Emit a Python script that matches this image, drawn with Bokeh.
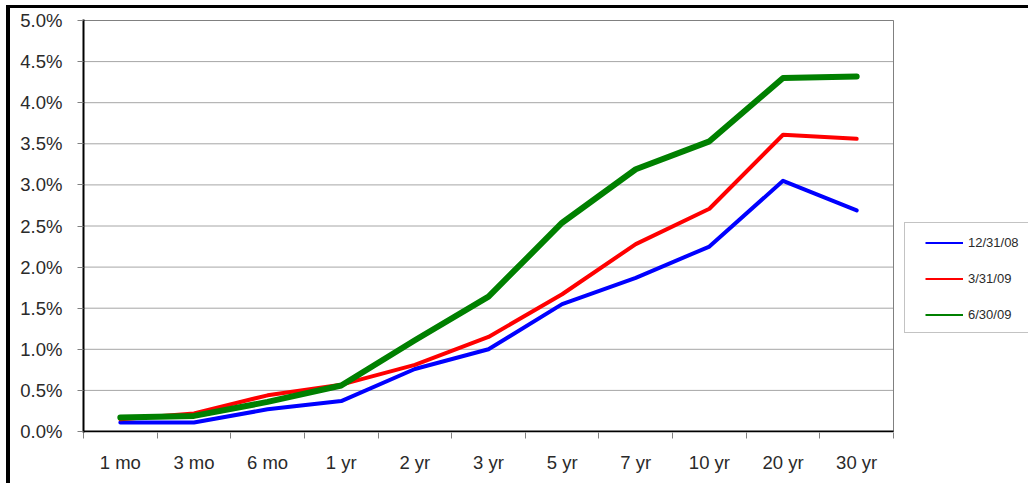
from bokeh.plotting import figure
from bokeh.models import FixedTicker, PrintfTickFormatter, Legend, LegendItem, Range1d
from bokeh.embed import file_html
from bokeh.resources import INLINE

maturities = ["1 mo", "3 mo", "6 mo", "1 yr", "2 yr", "3 yr", "5 yr", "7 yr", "10 yr", "20 yr", "30 yr"]
yields_dec08 = [0.11, 0.11, 0.27, 0.37, 0.76, 1.00, 1.55, 1.87, 2.25, 3.05, 2.69]
yields_mar09 = [0.15, 0.22, 0.44, 0.57, 0.81, 1.15, 1.67, 2.28, 2.71, 3.61, 3.56]
yields_jun09 = [0.17, 0.19, 0.36, 0.56, 1.11, 1.64, 2.54, 3.19, 3.53, 4.30, 4.32]
series_labels = ["12/31/08", "3/31/09", "6/30/09"]
y_ticks = [0.0, 0.5, 1.0, 1.5, 2.0, 2.5, 3.0, 3.5, 4.0, 4.5, 5.0]

n = len(maturities)
xs = [i + 0.5 for i in range(n)]
boundaries = list(range(n + 1))
y_lo, y_hi = y_ticks[0], y_ticks[-1]

# layout (pixels)
W, H = 1028, 483
plot_left, plot_right = 83, 893     # plot-area edges
frame_top, frame_bottom = 19, 432   # 1px beyond the 5.0% / 0.0% lines
px_per_unit = (431 - 20) / (y_hi - y_lo)
pad = 1 / px_per_unit
x_end = n * (W - plot_left) / (plot_right - plot_left)

p = figure(width=W, height=H, output_backend="svg", toolbar_location=None,
           x_range=Range1d(0, x_end), y_range=Range1d(y_lo - pad, y_hi + pad))
# outer chart border (left and top edges visible in the reference)
p.styles = {"box-shadow": "inset 6px 5px 0 0 white, inset 10px 8px 0 0 black"}
p.min_border_left = plot_left
p.min_border_right = 0
p.min_border_top = frame_top
p.min_border_bottom = H - frame_bottom
p.background_fill_color = "white"
p.border_fill_color = None
p.outline_line_color = None

# axes
p.xaxis.ticker = FixedTicker(ticks=xs, minor_ticks=boundaries)
p.xaxis.major_label_overrides = {x: m for x, m in zip(xs, maturities)}
p.xaxis.major_tick_line_color = None
p.xaxis.major_tick_out = 0
p.xaxis.major_tick_in = 0
p.xaxis.minor_tick_line_color = "#808080"
p.xaxis.minor_tick_out = 6
p.xaxis.minor_tick_in = 0
p.xaxis.major_label_standoff = 13
p.xaxis.axis_line_color = None

p.yaxis.ticker = FixedTicker(ticks=y_ticks, minor_ticks=[])
p.yaxis.formatter = PrintfTickFormatter(format="%.1f%%")
p.yaxis.major_tick_line_color = "#808080"
p.yaxis.major_tick_out = 6
p.yaxis.major_tick_in = 0
p.yaxis.major_label_standoff = 15
p.yaxis.axis_line_color = "black"
p.yaxis.axis_line_width = 2

for ax in (p.xaxis, p.yaxis):
    ax.major_label_text_font = "Liberation Sans"
    ax.major_label_text_font_size = "18.5px"
    ax.major_label_text_color = "#2a2a2a"

p.xgrid.grid_line_color = None
p.ygrid.grid_line_color = None

# horizontal gridlines and plot-area border
p.segment(x0=[0] * len(y_ticks), y0=y_ticks, x1=[n] * len(y_ticks), y1=y_ticks,
          line_color="#a6a6a6", line_width=1)
p.quad(left=[0], right=[n], bottom=[y_lo], top=[y_hi], fill_color=None,
       line_color="#808080", line_width=1)
# x axis line (only under the plot area)
p.segment(x0=[0], y0=[y_lo], x1=[n], y1=[y_lo], line_color="black", line_width=2)

colors = ["#0000ff", "#ff0000", "#008000"]
widths = [4, 4, 6]
legend_items = []
for ys, c, w, lab in zip([yields_dec08, yields_mar09, yields_jun09], colors, widths, series_labels):
    proxy = p.line(xs, ys, line_color=c, line_width=2)   # thin twin, hidden beneath, used for legend
    p.line(xs, ys, line_color=c, line_width=w, line_join="round", line_cap="round")
    legend_items.append(LegendItem(label=lab, renderers=[proxy]))

# legend frame (box only)
box_proxy = p.line(xs, yields_dec08, line_color=None)
legend_box = Legend(items=[LegendItem(label=" ", renderers=[box_proxy])],
                    location=(904 - plot_left, frame_bottom - 333))
legend_box.padding = 0
legend_box.margin = 0
legend_box.spacing = 0
legend_box.glyph_width = 150
legend_box.glyph_height = 109
legend_box.label_height = 109
legend_box.label_width = 100
legend_box.label_text_font_size = "13px"
legend_box.border_line_color = "#888888"
legend_box.border_line_width = 1
legend_box.background_fill_color = "white"
legend_box.background_fill_alpha = 1
p.add_layout(legend_box, "center")

legend = Legend(items=legend_items, location=(925 - plot_left, frame_bottom - 321.5))
legend.label_text_font = "Liberation Sans"
legend.label_text_font_size = "13px"
legend.label_text_color = "#2a2a2a"
legend.label_height = 15
legend.glyph_height = 15
legend.glyph_width = 38
legend.label_standoff = 5
legend.spacing = 21
legend.padding = 0
legend.margin = 0
legend.border_line_color = None
legend.background_fill_alpha = 0
p.add_layout(legend, "center")

open("out.html", "w").write(file_html(p, INLINE))
